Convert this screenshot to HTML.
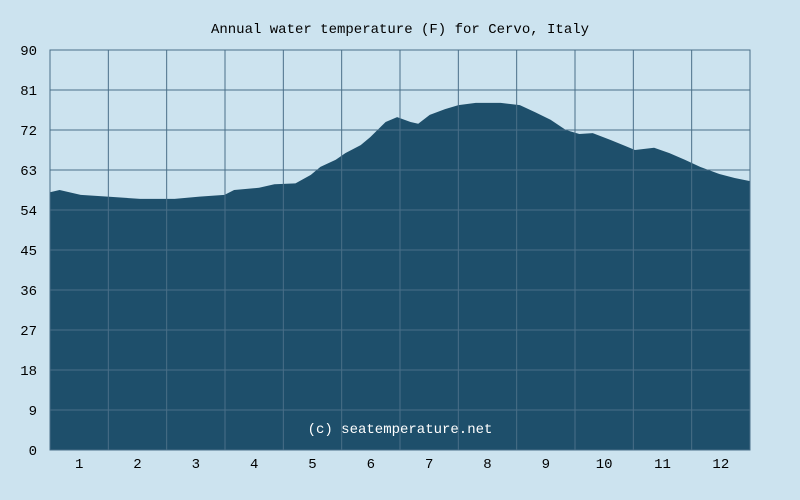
<!DOCTYPE html>
<html><head><meta charset="utf-8"><style>
body{margin:0;background:#cce3ef;}
svg{display:block;font-family:"Liberation Mono",monospace;}
</style></head><body>
<svg id="chart" width="800" height="500">
<rect x="0" y="0" width="800" height="500" fill="#cce3ef"/>
<text x="400" y="33" text-anchor="middle" font-size="14" fill="#000">Annual water temperature (F) for Cervo, Italy</text>
<g id="area"></g>
<g id="grid"></g>
<g id="yticks"></g>
<g id="xticks"></g>
<rect x="50" y="50" width="700" height="400" fill="none" stroke="#4a6f88" stroke-width="1"/>
<text x="400" y="433" text-anchor="middle" font-size="14" fill="#fff">(c) seatemperature.net</text>
</svg>
<script>
const days=[0,5,16,30,47,65,78,91,96,109,117,128,136,141,149,154,162,167,175,181,188,192,198,206,213,222,235,245,253,261,269,276,283,292,300,305,315,323,331,339,349,357,365];
const temps=[58.0,58.5,57.4,57.0,56.5,56.5,57.0,57.4,58.5,59.0,59.8,60.0,61.9,63.7,65.3,66.8,68.6,70.4,73.8,74.9,73.8,73.4,75.4,76.7,77.6,78.1,78.1,77.6,76.0,74.3,72.0,71.1,71.3,69.8,68.4,67.5,68.0,66.8,65.3,63.7,62.1,61.2,60.5];
const yTicks=[0,9,18,27,36,45,54,63,72,81,90];
const months=["1","2","3","4","5","6","7","8","9","10","11","12"];
const X0=50,X1=750,Y0=450,Y1=50,yMax=90,nDays=365;
const sx=d=>X0+(X1-X0)*d/nDays;
const sy=v=>Y0-(Y0-Y1)*v/yMax;
const NS="http://www.w3.org/2000/svg";
function mk(t,a){const e=document.createElementNS(NS,t);for(const k in a)e.setAttribute(k,a[k]);return e;}
let d=`M${sx(days[0])},${Y0} `;
for(let i=0;i<days.length;i++){
  d+=`L${sx(days[i])},${sy(temps[i])} `;
}
d+=`L${sx(days[days.length-1])},${Y0} Z`;
const area=mk("path",{d:d,fill:"#1e4f6b"});


document.getElementById('area').appendChild(area);
const grid=document.getElementById('grid');
yTicks.forEach(v=>{
  const l=mk("line",{x1:X0,x2:X1,y1:sy(v),y2:sy(v),stroke:"#4a6f88","stroke-width":1});
  
  
  grid.appendChild(l);
  const t=mk("text",{x:37,y:sy(v)+5,"text-anchor":"end","font-size":14,fill:"#000"});
  t.textContent=v;
  
  
  document.getElementById('yticks').appendChild(t);
});
for(let i=0;i<=12;i++){
  const x=X0+(X1-X0)*i/12;
  const l=mk("line",{x1:x,x2:x,y1:Y1,y2:Y0,stroke:"#4a6f88","stroke-width":1});
  
  
  grid.appendChild(l);
}
months.forEach((m,i)=>{
  const x=X0+(X1-X0)*(i+0.5)/12;
  const t=mk("text",{x:x,y:468,"text-anchor":"middle","font-size":14,fill:"#000"});
  t.textContent=m;
  
  
  document.getElementById('xticks').appendChild(t);
});
</script>
</body></html>
